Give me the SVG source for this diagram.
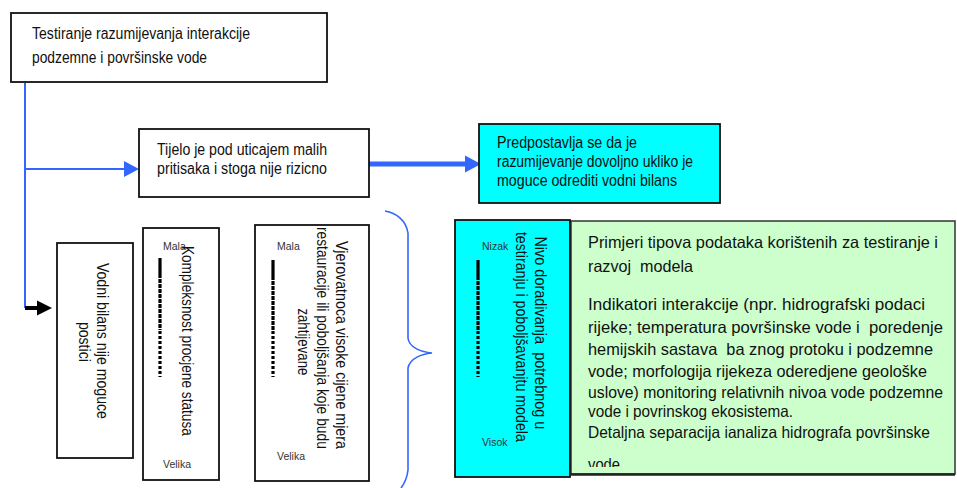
<svg xmlns="http://www.w3.org/2000/svg" width="957" height="488" viewBox="0 0 957 488">
  <style>
    .box { stroke: #111; stroke-width: 1.8; }
    .white { fill: #ffffff; }
    .cyan { fill: #00ffff; }
    .green { fill: #ccffcc; }
    .t { font-family: "Liberation Sans", Arial, sans-serif; font-size: 16px; fill: #111; white-space: pre; }
    .tg { font-family: "Liberation Sans", Arial, sans-serif; font-size: 16.5px; fill: #111; white-space: pre; }
    .lbl { font-family: "Liberation Sans", Arial, sans-serif; font-size: 10.5px; fill: #333; }
    .blue { stroke: #3366ff; fill: none; }
    .scale { stroke: #000; stroke-width: 3.2; fill: none; }
  </style>
  <defs>
    <clipPath id="clipGreen">
      <rect x="572" y="222" width="382" height="245"/>
    </clipPath>
  </defs>

  <!-- connectors -->
  <g id="connectors">
    <path class="blue" stroke-width="2" d="M25,83 L25,308"/>
    <path class="blue" stroke-width="2" d="M25,169 L125,169"/>
    <path d="M124,161 L139,169 L124,177 Z" fill="#3366ff"/>
    <path class="blue" stroke-width="5" d="M369,164 L466,164"/>
    <path d="M465,155.5 L481,164 L465,172.5 Z" fill="#3366ff"/>
    <path d="M25,308 L39,308" stroke="#000" stroke-width="4"/>
    <path d="M37,300.5 L52,308 L37,315.5 Z" fill="#000"/>
    <!-- curly brace -->
    <path class="blue" stroke-width="1.6" d="M385,211 C396,213 406,220 408,233 L408,338 C409,348 422,352 432,353 C422,354 410,358 408,368 L408,470 C407,479 404,484 401,488"/>
  </g>

  <!-- top box -->
  <g id="node-testiranje">
    <rect class="box white" x="11" y="13" width="316" height="69"/>
    <text class="t" x="32" y="39" textLength="218" lengthAdjust="spacingAndGlyphs">Testiranje razumijevanja interakcije</text>
    <text class="t" x="32" y="63" textLength="175" lengthAdjust="spacingAndGlyphs">podzemne i površinske vode</text>
  </g>

  <g id="node-tijelo">
    <rect class="box white" x="139" y="129" width="230" height="68"/>
    <text class="t" x="157" y="155" textLength="170" lengthAdjust="spacingAndGlyphs">Tijelo je pod uticajem malih</text>
    <text class="t" x="157" y="174" textLength="170" lengthAdjust="spacingAndGlyphs">pritisaka i stoga nije rizicno</text>
  </g>

  <g id="node-predpostavlja">
    <rect class="box cyan" x="479" y="124" width="241" height="79"/>
    <text class="t" x="497" y="148" textLength="140" lengthAdjust="spacingAndGlyphs">Predpostavlja se da je</text>
    <text class="t" x="497" y="167" textLength="196" lengthAdjust="spacingAndGlyphs">razumijevanje dovoljno ukliko je</text>
    <text class="t" x="497" y="186" textLength="180" lengthAdjust="spacingAndGlyphs">moguce odrediti vodni bilans</text>
  </g>

  <g id="node-vodni-bilans">
    <rect class="box white" x="57" y="243" width="76" height="215"/>
    <text class="t" transform="rotate(90)" text-anchor="middle">
      <tspan x="352" y="-97" textLength="156" lengthAdjust="spacingAndGlyphs">Vodni bilans nije moguce</tspan>
    </text>
    <text class="t" transform="rotate(90)" text-anchor="middle">
      <tspan x="353" y="-79" textLength="40" lengthAdjust="spacingAndGlyphs">postici</tspan>
    </text>
  </g>

  <g id="node-kompleksnost">
    <rect class="box white" x="143" y="228" width="76" height="252"/>
    <text class="lbl" x="163" y="250">Mala</text>
    <text class="lbl" x="163" y="468">Velika</text>
    <path class="scale" d="M160,258 L160,274"/>
    <path class="scale" stroke-dasharray="4 1" d="M160,274 L160,330"/>
    <path class="scale" stroke-dasharray="3 2" d="M160,331 L160,377"/>
    <text class="t" transform="rotate(90)" text-anchor="middle">
      <tspan x="352" y="-182" textLength="190" lengthAdjust="spacingAndGlyphs">Kompleksnost procjene statusa</tspan>
    </text>
  </g>

  <g id="node-vjerovatnoca">
    <rect class="box white" x="255" y="225" width="114" height="256"/>
    <text class="lbl" x="277" y="250">Mala</text>
    <text class="lbl" x="277" y="460">Velika</text>
    <path class="scale" d="M273,260 L273,276"/>
    <path class="scale" stroke-dasharray="4 1" d="M273,276 L273,330"/>
    <path class="scale" stroke-dasharray="3 2" d="M273,331 L273,377"/>
    <text class="t" transform="rotate(90)" text-anchor="middle">
      <tspan x="356" y="-336" textLength="208" lengthAdjust="spacingAndGlyphs">Vjerovatnoca visoke cijene mjera</tspan>
    </text>
    <text class="t" transform="rotate(90)" text-anchor="middle">
      <tspan x="349" y="-317" textLength="222" lengthAdjust="spacingAndGlyphs">restauracije ili poboljšanja koje budu</tspan>
    </text>
    <text class="t" transform="rotate(90)" text-anchor="middle">
      <tspan x="353" y="-298" textLength="67" lengthAdjust="spacingAndGlyphs">zahtijevane</tspan>
    </text>
  </g>

  <g id="node-primjeri">
    <rect x="571" y="221" width="384" height="253" class="green" stroke="#333" stroke-width="1.5"/>
    <path d="M571,474.5 L955,474.5" stroke="#222" stroke-width="2.5"/>
    <g clip-path="url(#clipGreen)">
      <text class="tg" x="588" y="248" textLength="350" lengthAdjust="spacingAndGlyphs">Primjeri tipova podataka korištenih za testiranje i</text>
      <text class="tg" x="588" y="272" textLength="105" lengthAdjust="spacingAndGlyphs">razvoj  modela</text>
      <text class="tg" x="588" y="310" textLength="337" lengthAdjust="spacingAndGlyphs">Indikatori interakcije (npr. hidrografski podaci</text>
      <text class="tg" x="588" y="333" textLength="355" lengthAdjust="spacingAndGlyphs">rijeke; temperatura površinske vode i  poredenje</text>
      <text class="tg" x="588" y="355" textLength="345" lengthAdjust="spacingAndGlyphs">hemijskih sastava  ba znog protoku i podzemne</text>
      <text class="tg" x="588" y="377" textLength="339" lengthAdjust="spacingAndGlyphs">vode; morfologija rijekeza oderedjene geološke</text>
      <text class="tg" x="588" y="398" textLength="355" lengthAdjust="spacingAndGlyphs">uslove) monitoring relativnih nivoa vode podzemne</text>
      <text class="tg" x="588" y="417" textLength="205" lengthAdjust="spacingAndGlyphs">vode i povrinskog ekosistema.</text>
      <text class="tg" x="588" y="438" textLength="342" lengthAdjust="spacingAndGlyphs">Detaljna separacija ianaliza hidrografa površinske</text>
      <text class="tg" x="588" y="470" textLength="32" lengthAdjust="spacingAndGlyphs">vode</text>
    </g>
  </g>

  <g id="node-nivo">
    <rect class="box cyan" x="455" y="220" width="115" height="257"/>
    <text class="lbl" x="482" y="250">Nizak</text>
    <text class="lbl" x="482" y="446">Visok</text>
    <path class="scale" d="M478,260 L478,276"/>
    <path class="scale" stroke-dasharray="4 1" d="M478,276 L478,330"/>
    <path class="scale" stroke-dasharray="3 2" d="M478,331 L478,377"/>
    <text class="t" transform="rotate(90)" text-anchor="middle">
      <tspan x="344" y="-535" textLength="193" lengthAdjust="spacingAndGlyphs">Nivo doradivanja  potrebnog u</tspan>
    </text>
    <text class="t" transform="rotate(90)" text-anchor="middle">
      <tspan x="348" y="-516" textLength="210" lengthAdjust="spacingAndGlyphs">testiranju i poboljšavanjtu modela</tspan>
    </text>
  </g>
</svg>
